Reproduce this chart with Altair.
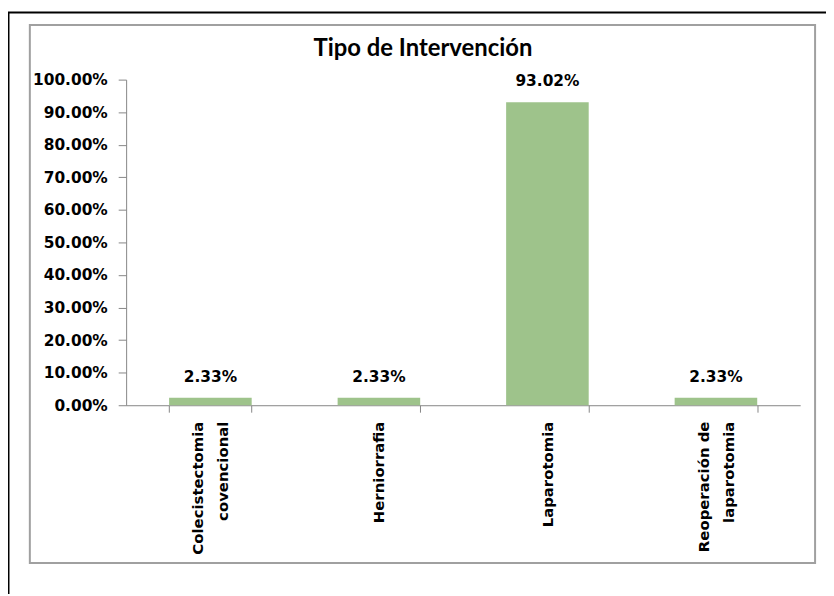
import altair as alt
import pandas as pd

categories = ["Colecistectomia covencional", "Herniorrafia", "Laparotomia", "Reoperación de laparotomia"]
values = [0.0233, 0.0233, 0.9302, 0.0233]
value_labels = ["2.33%", "2.33%", "93.02%", "2.33%"]
y_ticks = [0, 0.1, 0.2, 0.3, 0.4, 0.5, 0.6, 0.7, 0.8, 0.9, 1.0]

df = pd.DataFrame({"cat": categories, "val": values, "lab": value_labels})
frame_df = pd.DataFrame({"k": [0]})

W, H = 679, 328
FONT = "DejaVu Sans"
NB = "\u00a0\u00a0\u00a0"
SP = "\u2800"

label_expr = (
    "datum.value == 'Colecistectomia covencional' ? ['Colecistectomia', '" + SP + "', 'covencional" + NB + "'] : "
    "datum.value == 'Reoperación de laparotomia' ? ['Reoperación de', '" + SP + "', 'laparotomia" + NB + "'] : "
    "['" + SP + "', datum.value]"
)

x_enc = alt.X(
    "cat:N", sort=None, title=None,
    scale=alt.Scale(paddingInner=0.51, paddingOuter=0.255),
    axis=alt.Axis(
        labelAngle=270, labelAlign="right", labelBaseline="middle",
        labelExpr=label_expr, labelFont=FONT, labelFontWeight="bold", labelFontSize=15,
        labelColor="#000000", labelLineHeight=12.5, labelOffset=-12.5, labelPadding=9,
        tickBand="extent", tickSize=7, tickColor="#868686", domainColor="#868686",
        labelOverlap=False, labelLimit=300,
    ),
)
y_enc = alt.Y(
    "val:Q", title=None,
    scale=alt.Scale(domain=[0, 1], nice=False),
    axis=alt.Axis(
        values=y_ticks, tickCount=11, format=".2%", grid=False, labelOverlap=False,
        labelFont=FONT, labelFontWeight="bold", labelFontSize=15.5, labelColor="#000000",
        tickSize=8, labelPadding=11, tickColor="#868686", domainColor="#868686",
    ),
)

bars = alt.Chart(df).mark_bar(color="#9ec38b").encode(x=x_enc, y=y_enc)
texts = alt.Chart(df).mark_text(
    font=FONT, fontWeight="bold", fontSize=15.5, color="#000000", baseline="alphabetic", dy=-16
).encode(x=x_enc, y=y_enc, text="lab:N")

outer = alt.Chart(frame_df).mark_rect(fillOpacity=0, stroke="#000000", strokeWidth=2).encode(
    x=alt.value(-118.5), x2=alt.value(800), y=alt.value(-67.5), y2=alt.value(600)
)
inner = alt.Chart(frame_df).mark_rect(fillOpacity=0, stroke="#a0a0a0", strokeWidth=2).encode(
    x=alt.value(-97), x2=alt.value(694), y=alt.value(-55), y2=alt.value(487)
)

chart = alt.layer(bars, texts, outer, inner).properties(
    width=W, height=H,
    title=alt.TitleParams(
        "Tipo de Intervención", font="Lato", fontSize=24, fontWeight="bold", color="#000000",
        anchor="middle", frame="group", dx=-40.5, offset=-69, baseline="alphabetic",
    ),
    autosize=alt.AutoSizeParams(type="none"),
    padding={"left": 119, "top": 70, "right": 26, "bottom": 188},
).configure(background="#ffffff").configure_view(strokeWidth=0, stroke="transparent")

chart.save("out.html", embed_options={"renderer": "svg", "actions": False})
